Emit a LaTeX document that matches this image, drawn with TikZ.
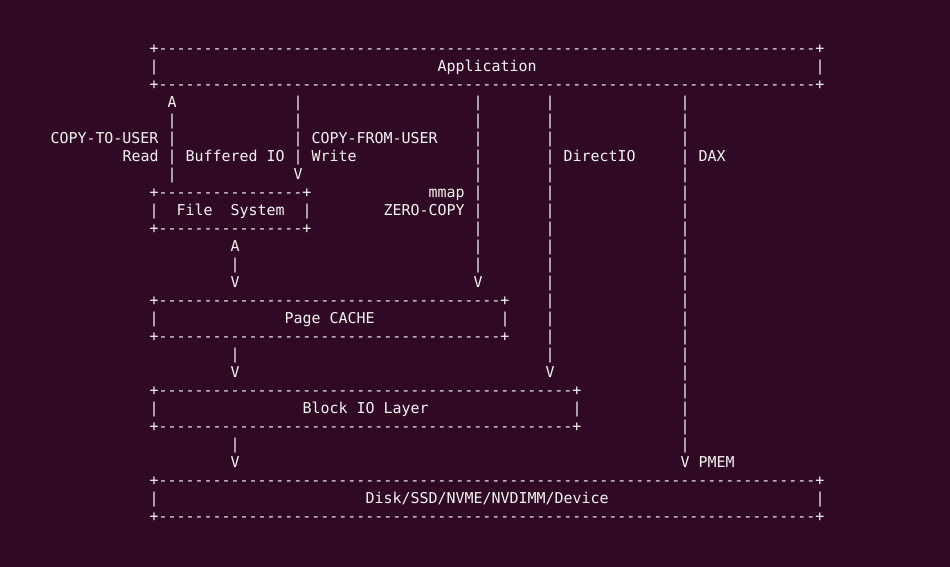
\documentclass[tikz,border=0pt]{standalone}
\usepackage{fontspec}
\setmonofont{DejaVu Sans Mono}
\usepackage{tikz}

\definecolor{termbg}{HTML}{300A24}
\definecolor{termfg}{HTML}{F4F4F2}

% +---...---+ border row of a box
\newcommand\border[1]{+\foreach\k in {1,...,#1}{-}+}

\begin{document}
\begin{tikzpicture}[x=9pt, y=-18pt,
    term/.style={anchor=base west, inner sep=0pt, outer sep=0pt, text=termfg,
      font=\ttfamily\fontsize{14.95pt}{18pt}\selectfont}]

    % Terminal background
    \fill[termbg] (0pt,0pt) rectangle (950pt,-567pt);
    \useasboundingbox (0pt,0pt) rectangle (950pt,-567pt);

    \begin{scope}[shift={(149.5pt,-53.3pt)}]

    % Application box
    \node[term] (app-top) at (0,0) {\border{73}};
    \node[term] (app-l) at (0,1) {|};
    \node[term] (app) at (32,1) {Application};
    \node[term] (app-r) at (74,1) {|};
    \node[term] (app-bot) at (0,2) {\border{73}};

    % File System box
    \node[term] (fs-top) at (0,8) {\border{16}};
    \node[term] (fs-l) at (0,9) {|};
    \node[term] (fs) at (3,9) {File~~System};
    \node[term] (fs-r) at (17,9) {|};
    \node[term] (fs-bot) at (0,10) {\border{16}};

    % Page CACHE box
    \node[term] (cache-top) at (0,14) {\border{38}};
    \node[term] (cache-l) at (0,15) {|};
    \node[term] (cache) at (15,15) {Page CACHE};
    \node[term] (cache-r) at (39,15) {|};
    \node[term] (cache-bot) at (0,16) {\border{38}};

    % Block IO Layer box
    \node[term] (block-top) at (0,19) {\border{46}};
    \node[term] (block-l) at (0,20) {|};
    \node[term] (block) at (17,20) {Block IO Layer};
    \node[term] (block-r) at (47,20) {|};
    \node[term] (block-bot) at (0,21) {\border{46}};

    % Device box
    \node[term] (dev-top) at (0,24) {\border{73}};
    \node[term] (dev-l) at (0,25) {|};
    \node[term] (dev) at (24,25) {Disk/SSD/NVME/NVDIMM/Device};
    \node[term] (dev-r) at (74,25) {|};
    \node[term] (dev-bot) at (0,26) {\border{73}};

    % Read path, up to the application
    \node[term] (read-tip) at (2,3) {A};
    \foreach \r in {4,...,7} \node[term] (read-\r) at (2,\r) {|};

    % Write path, down to the file system
    \foreach \r in {3,...,6} \node[term] (write-\r) at (16,\r) {|};
    \node[term] (write-tip) at (16,7) {V};

    % mmap path, down to the page cache
    \foreach \r in {3,...,12} \node[term] (mmap-\r) at (36,\r) {|};
    \node[term] (mmap-tip) at (36,13) {V};

    % DirectIO path, down to the block layer
    \foreach \r in {3,...,17} \node[term] (direct-\r) at (44,\r) {|};
    \node[term] (direct-tip) at (44,18) {V};

    % DAX path, down to the device
    \foreach \r in {3,...,22} \node[term] (dax-\r) at (59,\r) {|};
    \node[term] (dax-tip) at (59,23) {V};

    % File system <-> page cache <-> block layer <-> device
    \node[term] (fs-up) at (9,11) {A};
    \node[term] (fs-mid) at (9,12) {|};
    \node[term] (fs-down) at (9,13) {V};
    \node[term] (cache-mid) at (9,17) {|};
    \node[term] (cache-down) at (9,18) {V};
    \node[term] (block-mid) at (9,22) {|};
    \node[term] (block-down) at (9,23) {V};

    % Path labels
    \node[term] (copy-to) at (-11,5) {COPY-TO-USER};
    \node[term] (read) at (-3,6) {Read};
    \node[term] (buffered) at (4,6) {Buffered IO};
    \node[term] (copy-from) at (18,5) {COPY-FROM-USER};
    \node[term] (write) at (18,6) {Write};
    \node[term] (mmap) at (31,8) {mmap};
    \node[term] (zero-copy) at (26,9) {ZERO-COPY};
    \node[term] (direct) at (46,6) {DirectIO};
    \node[term] (dax) at (61,6) {DAX};
    \node[term] (pmem) at (61,23) {PMEM};

    \end{scope}

\end{tikzpicture}
\end{document}
